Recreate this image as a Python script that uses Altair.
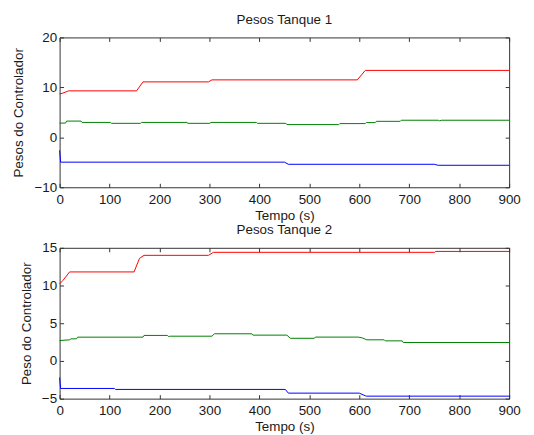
import altair as alt
import pandas as pd

# ---- Tanque 1 ----
t1_red = [0, 5, 13, 18, 154, 167, 298, 305, 596, 612, 900]
v1_red = [8.7, 8.8, 9.1, 9.3, 9.3, 11.1, 11.1, 11.5, 11.5, 13.4, 13.4]
t1_green = [0, 12, 14, 43, 45, 102, 104, 162, 164, 255, 257, 301, 303, 394, 396, 453, 455, 559, 561, 612, 614, 632, 634, 682, 684, 758, 761, 764, 900]
v1_green = [2.85, 2.85, 3.25, 3.25, 2.98, 2.98, 2.8, 2.8, 2.98, 2.98, 2.8, 2.8, 2.98, 2.98, 2.8, 2.8, 2.55, 2.55, 2.75, 2.75, 2.95, 2.95, 3.2, 3.2, 3.42, 3.42, 3.3, 3.42, 3.42]
t1_blue = [0, 2, 450, 458, 750, 758, 900]
v1_blue = [-2.6, -4.97, -4.97, -5.4, -5.4, -5.6, -5.6]

# ---- Tanque 2 ----
t2_red = [0, 7, 20, 149, 160, 169, 298, 308, 751, 753, 900]
v2_red = [10.2, 10.7, 11.8, 11.8, 13.6, 14.0, 14.0, 14.4, 14.4, 14.52, 14.52]
t2_green = [0, 20, 23, 34, 36, 167, 169, 216, 218, 222, 305, 310, 385, 387, 455, 462, 510, 512, 598, 606, 615, 650, 652, 686, 688, 900]
v2_green = [2.7, 2.8, 2.93, 2.93, 3.15, 3.15, 3.38, 3.38, 3.24, 3.28, 3.28, 3.6, 3.6, 3.42, 3.42, 3.0, 3.0, 3.16, 3.16, 3.05, 2.8, 2.8, 2.66, 2.66, 2.44, 2.44]
t2_blue = [0, 2, 110, 112, 452, 458, 600, 612, 615, 900]
v2_blue = [-2.2, -3.65, -3.65, -3.78, -3.78, -4.27, -4.27, -4.62, -4.67, -4.67]

series_names = ["w1", "w2", "w3"]
series_colors = ["#0000ff", "#008000", "#ff0000"]

x_ticks = [0, 100, 200, 300, 400, 500, 600, 700, 800, 900]
y1_ticks = [-10, 0, 10, 20]
y2_ticks = [-5, 0, 5, 10, 15]


def frame(ts, vs):
    rows = []
    for name, t, v in zip(series_names, ts, vs):
        for a, b in zip(t, v):
            rows.append({"t": a, "v": b, "s": name})
    return pd.DataFrame(rows)


df1 = frame([t1_blue, t1_green, t1_red], [v1_blue, v1_green, v1_red])
df2 = frame([t2_blue, t2_green, t2_red], [v2_blue, v2_green, v2_red])

FONT = "Liberation Sans"
TXT = "#1a1a1a"
AX = "#333333"
FS = 13.5


def panel(df, title, ytitle, ydom, yticks, h):
    xs = alt.Scale(domain=[0, 900], nice=False, zero=False)
    ys = alt.Scale(domain=ydom, nice=False, zero=False)
    common = dict(tickSize=4, offset=-4, domain=False, tickColor=AX, tickWidth=1,
                  labelFont=FONT, labelFontSize=FS, labelColor=TXT, labelFlush=False,
                  labelOverlap=False,
                  titleFont=FONT, titleFontSize=FS, titleColor=TXT, titleFontWeight="normal",
                  grid=False)
    lines = alt.Chart(df).mark_line(strokeWidth=1, interpolate="linear").encode(
        x=alt.X("t:Q", scale=xs,
                axis=alt.Axis(values=x_ticks, title="Tempo (s)", orient="bottom",
                              labelPadding=5, titlePadding=3, **common)),
        y=alt.Y("v:Q", scale=ys,
                axis=alt.Axis(values=yticks, title=ytitle, orient="left",
                              labelPadding=3, titlePadding=8, **common)),
        color=alt.Color("s:N", scale=alt.Scale(domain=series_names, range=series_colors), legend=None),
        order="t:Q",
    )
    common2 = dict(tickSize=4, offset=-4, domain=False, tickColor=AX, tickWidth=1,
                   labels=False, title=None, grid=False)
    ghost = alt.Chart(df).mark_line(opacity=0).encode(
        x=alt.X("t:Q", scale=xs, axis=alt.Axis(values=x_ticks, orient="top", **common2)),
        y=alt.Y("v:Q", scale=ys, axis=alt.Axis(values=yticks, orient="right", **common2)),
        detail="s:N",
    )
    return alt.layer(lines, ghost).resolve_axis(x="independent", y="independent").properties(
        width=453, height=h,
        title=alt.TitleParams(title, font=FONT, fontSize=FS, fontWeight="normal", color=TXT, offset=4),
    )


top = panel(df1, "Pesos Tanque 1", "Pesos do Controlador", [-10, 20], y1_ticks, 151)
bot = panel(df2, "Pesos Tanque 2", "Peso do Controlador", [-5, 15], y2_ticks, 152)

chart = alt.vconcat(top, bot, spacing=0).properties(
    padding={"left": 3, "top": 3, "right": 5, "bottom": 0},
    background="white",
).configure_view(stroke=AX, strokeWidth=1)

chart.save("out.html", embed_options={"renderer": "svg", "actions": False})
